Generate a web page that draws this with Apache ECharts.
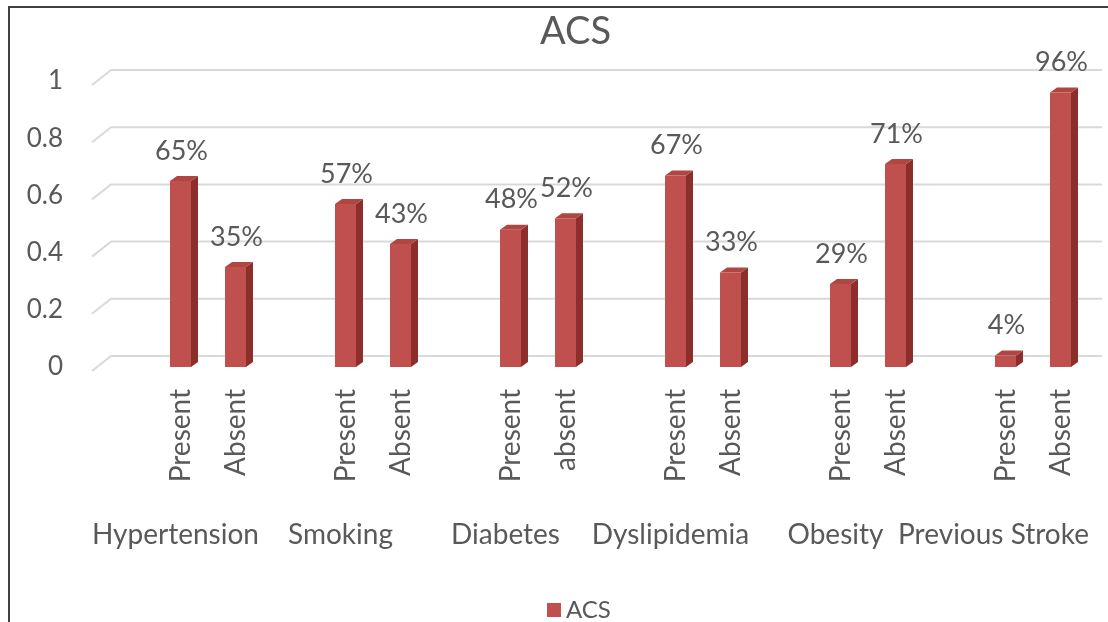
<!DOCTYPE html>
<html lang="en">
<head>
    <meta charset="UTF-8">
    <title>ACS</title>
    <script type="text/javascript" src="https://cdn.jsdelivr.net/npm/echarts@6/dist/echarts.min.js"></script>
    <style>
        html, body {margin: 0; padding: 0; background: #fff;}
        #main {width: 1108px; height: 622px;}
    </style>
</head>
<body>
<div id="main"></div>

<script type="text/javascript">
  // 数据
  var groups = ['Hypertension', 'Smoking', 'Diabetes', 'Dyslipidemia', 'Obesity', 'Previous Stroke'];
  var levels = ['', 'Present', 'Absent', '', 'Present', 'Absent', '', 'Present', 'absent',
                '', 'Present', 'Absent', '', 'Present', 'Absent', '', 'Present', 'Absent'];
  var acs = [null, 0.65, 0.35, null, 0.57, 0.43, null, 0.48, 0.52,
             null, 0.67, 0.33, null, 0.29, 0.71, null, 0.04, 0.96];
  var yTicks = [0, 0.2, 0.4, 0.6, 0.8, 1];

  var textColor = '#595959';
  var font = 'Lato, "Open Sans", sans-serif';
  // 组标签向左的偏移(像素)
  var groupShift = [5, 5, 5, 5, 5, 12];

  var barData = [];
  for (var i = 0; i < acs.length; i++) {
    if (acs[i] !== null) barData.push([i, acs[i]]);
  }

  var chart = echarts.init(document.getElementById('main'));

  // 3D 柱子
  function renderBar(params, api) {
    var top = api.coord([api.value(0), api.value(1)]);
    var base = api.coord([api.value(0), 0]);
    var w = 21, dx = 7, dy = 5;
    var x = top[0] - w / 2;
    var y = top[1];
    var b = base[1];
    return {
      type: 'group',
      children: [
        {type: 'polygon', shape: {points: [[x + w, y], [x + w + dx, y - dy], [x + w + dx, b - dy], [x + w, b]]},
          style: {fill: '#8C2F2C'}},
        {type: 'polygon', shape: {points: [[x, y], [x + dx, y - dy], [x + w + dx, y - dy], [x + w, y]]},
          style: {fill: '#B04542'}},
        {type: 'rect', shape: {x: x, y: y, width: w, height: b - y},
          style: {fill: '#C0504D'}},
        {type: 'text', x: top[0] + 1, y: y - 30,
          style: {text: Math.round(api.value(1) * 100) + '%', fill: textColor,
            font: '27px ' + font, align: 'center', verticalAlign: 'middle'}}
      ]
    };
  }

  // 背景网格线(带透视)
  function renderGrid(params, api) {
    var cs = params.coordSys;
    var p = api.coord([0, api.value(0)]);
    var yv = p[1];
    return {
      type: 'polyline',
      shape: {points: [[cs.x - 6, yv + 4], [cs.x + 13, yv - 11], [cs.x + cs.width + 14, yv - 11]]},
      style: {stroke: '#D9D9D9', lineWidth: 2, fill: null}
    };
  }

  var option = {
    animation: false,
    title: {
      text: 'ACS',
      left: 535,
      top: 8,
      textStyle: {fontFamily: font, fontSize: 38, fontWeight: 'normal', color: textColor}
    },
    legend: {
      left: 542,
      top: 593,
      icon: 'rect',
      itemWidth: 14,
      itemHeight: 14,
      itemGap: 8,
      data: ['ACS'],
      textStyle: {fontFamily: font, fontSize: 24, color: textColor}
    },
    graphic: [{
      type: 'rect',
      shape: {x: 9, y: 7, width: 1300, height: 800},
      style: {fill: null, stroke: '#404040', lineWidth: 2},
      silent: true
    }],
    grid: {left: 98, right: 20, top: 81, bottom: 622 - 367},
    xAxis: [{
      type: 'category',
      data: levels,
      axisLine: {show: false},
      axisTick: {show: false},
      axisLabel: {interval: 0, rotate: 90, margin: 22, fontFamily: font, fontSize: 28, color: textColor}
    }, {
      type: 'category',
      data: groups,
      position: 'bottom',
      offset: 149,
      axisLine: {show: false},
      axisTick: {show: false},
      axisLabel: {
        interval: 0, margin: 5, fontFamily: font, fontSize: 28, color: textColor,
        formatter: function (v, idx) { return '{g' + idx + '|' + v + '}'; },
        rich: (function () {
          var r = {};
          for (var k = 0; k < groupShift.length; k++) {
            r['g' + k] = {fontFamily: font, fontSize: 28, color: textColor, padding: [0, groupShift[k] * 2, 0, 0]};
          }
          return r;
        })()
      }
    }],
    yAxis: {
      type: 'value',
      min: 0,
      max: 1,
      interval: 0.2,
      splitLine: {show: false},
      axisLine: {show: false},
      axisTick: {show: false},
      axisLabel: {margin: 35, fontFamily: font, fontSize: 26, color: textColor, padding: [8, 0, 0, 0]}
    },
    series: [{
      type: 'custom',
      name: 'gridlines',
      silent: true,
      z: 1,
      renderItem: renderGrid,
      encode: {y: 0},
      data: yTicks.map(function (t) { return [t]; })
    }, {
      type: 'custom',
      name: 'ACS',
      z: 2,
      itemStyle: {color: '#C0504D'},
      renderItem: renderBar,
      encode: {x: 0, y: 1},
      data: barData
    }]
  };

  chart.setOption(option);
</script>
</body>
</html>
